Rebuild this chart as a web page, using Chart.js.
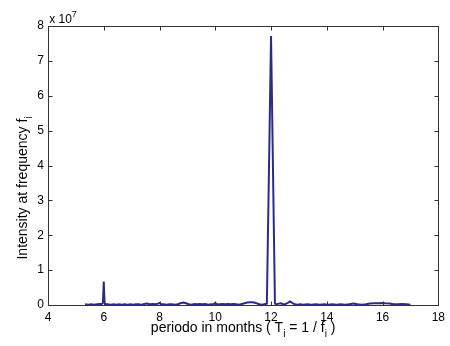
<!DOCTYPE html>
<html>
<head>
<meta charset="utf-8">
<script src="https://cdn.jsdelivr.net/npm/chart.js@4.4.0/dist/chart.umd.min.js"></script>
<style>
  html, body { margin: 0; padding: 0; background: #fff; }
  canvas { display: block; }
</style>
</head>
<body>
<canvas id="chart" width="450" height="346"></canvas>
<script>
// period in months (T = 1/f)
const periods = [
  5.33, 5.45, 5.55, 5.65, 5.75, 5.85, 5.93, 5.97, 6.00, 6.03, 6.07, 6.15,
  6.25, 6.35, 6.45, 6.55, 6.65, 6.75, 6.85, 6.95, 7.05, 7.15, 7.25, 7.35,
  7.45, 7.55, 7.65, 7.75, 7.85, 7.95, 8.00, 8.05, 8.15, 8.25, 8.35, 8.45,
  8.55, 8.65, 8.75, 8.85, 8.95, 9.05, 9.15, 9.25, 9.35, 9.45, 9.55, 9.65,
  9.75, 9.85, 9.95, 10.00, 10.05, 10.15, 10.25, 10.35, 10.45, 10.55, 10.65, 10.75,
  10.85, 10.95, 11.05, 11.15, 11.25, 11.35, 11.45, 11.55, 11.65, 11.75, 11.85, 12.00,
  12.14, 12.20, 12.27, 12.35, 12.42, 12.50, 12.60, 12.68, 12.76, 12.85, 12.95, 13.05,
  13.15, 13.30, 13.45, 13.60, 13.75, 13.90, 14.05, 14.20, 14.35, 14.50, 14.65, 14.80,
  14.95, 15.10, 15.25, 15.40, 15.55, 15.70, 15.85, 16.00, 16.10, 16.25, 16.40, 16.55,
  16.70, 16.85, 17.00
];

// intensity, in units of 10^7
const intensity = [
  0.02, 0.01, 0.02, 0.01, 0.02, 0.03, 0.03, 0.06, 0.67, 0.06, 0.03, 0.02,
  0.01, 0.02, 0.01, 0.02, 0.01, 0.02, 0.01, 0.02, 0.01, 0.02, 0.02, 0.01,
  0.03, 0.04, 0.02, 0.03, 0.02, 0.04, 0.06, 0.03, 0.02, 0.01, 0.02, 0.02,
  0.01, 0.02, 0.05, 0.07, 0.05, 0.02, 0.01, 0.03, 0.02, 0.03, 0.02, 0.03,
  0.01, 0.02, 0.03, 0.06, 0.03, 0.02, 0.03, 0.02, 0.03, 0.02, 0.03, 0.02,
  0.01, 0.03, 0.05, 0.07, 0.08, 0.08, 0.06, 0.03, 0.01, 0.02, 0.04, 7.71,
  0.04, 0.02, 0.04, 0.05, 0.03, 0.02, 0.06, 0.10, 0.06, 0.02, 0.01, 0.02,
  0.01, 0.02, 0.01, 0.02, 0.01, 0.02, 0.01, 0.02, 0.01, 0.02, 0.01, 0.02,
  0.04, 0.02, 0.01, 0.02, 0.04, 0.05, 0.05, 0.06, 0.05, 0.04, 0.02, 0.02,
  0.03, 0.02, 0.01
];

const xTicks = [4, 6, 8, 10, 12, 14, 16, 18];
const yTicks = [0, 1, 2, 3, 4, 5, 6, 7, 8];

const FONT = 'Liberation Sans, Arial, Helvetica, sans-serif';

// draws text pieces, some lowered (sub) or raised (sup), centred on 0,0
function drawRich(ctx, parts, size) {
  const small = Math.round(size * 0.72);
  let total = 0;
  parts.forEach(p => {
    ctx.font = (p[1] ? small : size) + 'px ' + FONT;
    total += ctx.measureText(p[0]).width;
  });
  let x = -total / 2;
  parts.forEach(p => {
    ctx.font = (p[1] ? small : size) + 'px ' + FONT;
    let dy = 0;
    if (p[1] === 'sub') dy = size * 0.45;
    if (p[1] === 'sup') dy = -size * 0.45;
    ctx.fillText(p[0], x, dy);
    x += ctx.measureText(p[0]).width;
  });
}

const matlabFrame = {
  id: 'matlabFrame',
  afterDraw(chart) {
    const ctx = chart.ctx;
    const a = chart.chartArea;
    const xs = chart.scales.x, ys = chart.scales.y;
    ctx.save();
    ctx.strokeStyle = '#333';
    ctx.lineWidth = 1;
    const L = Math.round(a.left) + 0.5, R = Math.round(a.right) + 0.5;
    const T = Math.round(a.top) + 0.5, B = Math.round(a.bottom) + 0.5;
    ctx.strokeRect(L, T, R - L, B - T);
    ctx.beginPath();
    const len = 4;
    xTicks.forEach(v => {
      const px = Math.round(xs.getPixelForValue(v)) + 0.5;
      ctx.moveTo(px, B); ctx.lineTo(px, B - len);
      ctx.moveTo(px, T); ctx.lineTo(px, T + len);
    });
    yTicks.forEach(v => {
      const py = Math.round(ys.getPixelForValue(v)) + 0.5;
      ctx.moveTo(L, py); ctx.lineTo(L + len, py);
      ctx.moveTo(R, py); ctx.lineTo(R - len, py);
    });
    ctx.stroke();

    ctx.fillStyle = '#000';
    ctx.textBaseline = 'middle';
    ctx.textAlign = 'left';
    // exponent label
    ctx.save();
    ctx.translate(a.left + 15, 20);
    drawRich(ctx, [['x 10', null], ['7', 'sup']], 12);
    ctx.restore();
    // x title
    ctx.save();
    ctx.translate((a.left + a.right) / 2, 328);
    drawRich(ctx, [['periodo in months ( T', null], ['i', 'sub'], [' = 1 / f', null], ['i', 'sub'], [' )', null]], 14);
    ctx.restore();
    // y title
    ctx.save();
    ctx.translate(23, 188);
    ctx.rotate(-Math.PI / 2);
    drawRich(ctx, [['Intensity at frequency f', null], ['i', 'sub']], 14);
    ctx.restore();
    ctx.restore();
  }
};

new Chart(document.getElementById('chart'), {
  type: 'line',
  data: {
    datasets: [{
      data: periods.map((p, i) => ({ x: p, y: intensity[i] })),
      borderColor: '#2b2a8e',
      borderWidth: 2,
      pointRadius: 0,
      tension: 0,
      fill: false
    }]
  },
  options: {
    responsive: false,
    animation: false,
    maintainAspectRatio: false,
    layout: { padding: { top: 26, right: 9, left: 0, bottom: 0 } },
    plugins: { legend: { display: false }, tooltip: { enabled: false } },
    scales: {
      x: {
        type: 'linear',
        min: 4, max: 18,
        afterBuildTicks: s => { s.ticks = xTicks.map(v => ({ value: v })); },
        afterFit: s => { s.height = 41; },
        grid: { display: false, drawTicks: false },
        border: { display: false },
        ticks: { color: '#000', padding: 5, autoSkip: false, maxRotation: 0, font: { family: FONT, size: 12 } }
      },
      y: {
        min: 0, max: 8,
        afterBuildTicks: s => { s.ticks = yTicks.map(v => ({ value: v })); },
        afterFit: s => { s.width = 48; },
        grid: { display: false, drawTicks: false },
        border: { display: false },
        ticks: { color: '#000', padding: 4, autoSkip: false, font: { family: FONT, size: 12 } }
      }
    }
  },
  plugins: [matlabFrame]
});
</script>
</body>
</html>
